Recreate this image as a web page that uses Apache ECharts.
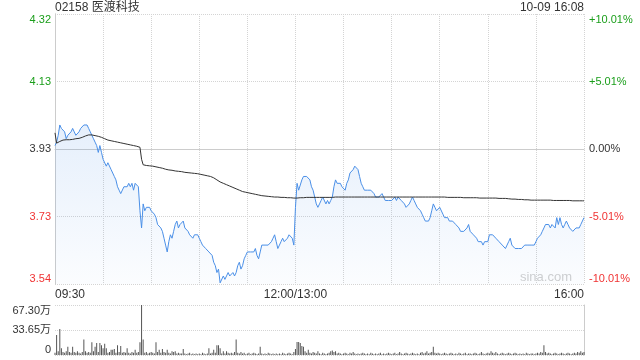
<!DOCTYPE html>
<html>
<head>
<meta charset="utf-8">
<script src="https://cdn.jsdelivr.net/npm/echarts@6/dist/echarts.min.js"></script>
<style>
html,body{margin:0;padding:0;background:#fff;}
#chart{width:640px;height:360px;}
</style>
</head>
<body>
<div id="chart"></div>
<script>
const stockTitle = '02158 医渡科技';
const stampText = '10-09 16:08';
const prevClose = 3.93;
const timeTickMinutes = [0, 150, 330];
const timeTickLabels = ['09:30', '12:00/13:00', '16:00'];
const priceTickLabels = ['3.54', '3.73', '3.93', '4.13', '4.32'];
const pctTickLabels = ['-10.01%', '-5.01%', '0.00%', '+5.01%', '+10.01%'];
const volTickLabels = ['0', '33.65万', '67.30万'];

const prices = [
3.94,3.95,3.97,4.00,3.99,3.99,3.98,3.96,3.97,3.97,
3.98,3.99,3.98,3.97,3.97,3.98,3.99,3.99,4.00,4.00,
4.00,3.99,3.98,3.97,3.96,3.95,3.94,3.92,3.94,3.92,
3.90,3.90,3.88,3.89,3.89,3.87,3.86,3.85,3.84,3.82,
3.81,3.80,3.80,3.82,3.82,3.82,3.83,3.82,3.83,3.81,
3.83,3.83,3.82,3.75,3.70,3.77,3.75,3.76,3.76,3.76,
3.75,3.75,3.74,3.73,3.71,3.71,3.70,3.69,3.67,3.65,
3.63,3.66,3.68,3.67,3.69,3.71,3.72,3.70,3.71,3.71,
3.72,3.70,3.70,3.69,3.68,3.68,3.67,3.68,3.68,3.68,
3.67,3.66,3.65,3.65,3.64,3.64,3.63,3.63,3.62,3.60,
3.59,3.57,3.58,3.54,3.54,3.56,3.55,3.56,3.57,3.56,
3.56,3.57,3.56,3.57,3.59,3.60,3.58,3.59,3.61,3.62,
3.63,3.63,3.63,3.63,3.63,3.64,3.62,3.61,3.63,3.65,
3.65,3.65,3.65,3.65,3.65,3.66,3.67,3.68,3.66,3.64,
3.65,3.66,3.67,3.66,3.66,3.67,3.68,3.68,3.67,3.65,
3.76,3.83,3.81,3.81,3.84,3.85,3.85,3.85,3.85,3.84,
3.82,3.81,3.79,3.77,3.76,3.77,3.78,3.79,3.79,3.77,
3.78,3.77,3.78,3.79,3.82,3.84,3.83,3.83,3.83,3.82,
3.82,3.81,3.83,3.84,3.86,3.86,3.87,3.88,3.88,3.87,
3.85,3.83,3.82,3.81,3.81,3.81,3.81,3.81,3.81,3.80,
3.79,3.79,3.79,3.79,3.80,3.80,3.78,3.78,3.78,3.78,
3.78,3.78,3.79,3.78,3.79,3.79,3.78,3.78,3.77,3.76,
3.76,3.77,3.78,3.79,3.78,3.77,3.76,3.76,3.75,3.74,
3.73,3.72,3.72,3.72,3.73,3.75,3.77,3.76,3.75,3.75,
3.76,3.76,3.74,3.73,3.73,3.73,3.72,3.72,3.72,3.72,
3.71,3.71,3.70,3.69,3.69,3.69,3.69,3.70,3.71,3.69,
3.69,3.68,3.68,3.67,3.66,3.66,3.66,3.65,3.66,3.66,
3.66,3.68,3.68,3.68,3.68,3.67,3.67,3.66,3.66,3.65,
3.65,3.64,3.65,3.66,3.67,3.65,3.65,3.64,3.64,3.64,
3.64,3.64,3.64,3.65,3.65,3.65,3.65,3.65,3.65,3.65,
3.66,3.67,3.67,3.68,3.69,3.70,3.71,3.71,3.71,3.70,
3.71,3.71,3.70,3.73,3.71,3.73,3.71,3.70,3.71,3.72,
3.71,3.70,3.70,3.69,3.69,3.70,3.70,3.70,3.71,3.71,3.73
];

const avgPrices = [
3.977,3.947,3.950,3.952,3.954,3.956,3.956,3.957,3.957,3.957,
3.958,3.958,3.959,3.960,3.961,3.961,3.962,3.964,3.966,3.968,
3.970,3.971,3.971,3.971,3.970,3.969,3.968,3.967,3.966,3.964,
3.962,3.960,3.958,3.956,3.955,3.954,3.953,3.952,3.951,3.950,
3.949,3.948,3.947,3.946,3.945,3.944,3.943,3.942,3.941,3.940,
3.939,3.938,3.937,3.935,3.900,3.884,3.883,3.882,3.882,3.881,
3.880,3.880,3.879,3.878,3.877,3.876,3.875,3.874,3.873,3.871,
3.870,3.869,3.868,3.868,3.867,3.866,3.866,3.865,3.864,3.864,
3.863,3.862,3.862,3.861,3.861,3.860,3.860,3.859,3.858,3.858,
3.857,3.856,3.855,3.854,3.853,3.852,3.851,3.850,3.848,3.846,
3.843,3.840,3.837,3.834,3.832,3.830,3.828,3.826,3.824,3.822,
3.820,3.818,3.816,3.814,3.812,3.810,3.808,3.806,3.805,3.804,
3.803,3.802,3.801,3.800,3.799,3.798,3.797,3.796,3.795,3.794,
3.793,3.793,3.792,3.792,3.791,3.791,3.791,3.790,3.790,3.790,
3.789,3.789,3.789,3.789,3.788,3.788,3.788,3.788,3.787,3.787,
3.787,3.787,3.788,3.788,3.788,3.788,3.789,3.789,3.789,3.789,
3.789,3.789,3.789,3.789,3.789,3.789,3.789,3.789,3.789,3.789,
3.789,3.789,3.789,3.789,3.789,3.790,3.790,3.790,3.790,3.790,
3.790,3.790,3.790,3.790,3.790,3.790,3.790,3.790,3.790,3.790,
3.790,3.790,3.790,3.790,3.790,3.790,3.790,3.790,3.790,3.790,
3.790,3.790,3.790,3.790,3.790,3.790,3.790,3.790,3.790,3.790,
3.790,3.790,3.790,3.790,3.790,3.790,3.790,3.790,3.790,3.790,
3.790,3.790,3.790,3.790,3.790,3.790,3.790,3.790,3.790,3.790,
3.790,3.790,3.790,3.790,3.790,3.790,3.790,3.790,3.790,3.790,
3.790,3.790,3.790,3.790,3.790,3.789,3.789,3.789,3.789,3.789,
3.789,3.789,3.789,3.789,3.788,3.788,3.788,3.788,3.788,3.788,
3.788,3.788,3.788,3.788,3.788,3.787,3.787,3.787,3.787,3.787,
3.787,3.787,3.787,3.787,3.787,3.787,3.787,3.786,3.786,3.786,
3.786,3.786,3.785,3.785,3.785,3.784,3.784,3.784,3.783,3.783,
3.783,3.783,3.782,3.782,3.782,3.782,3.781,3.781,3.781,3.781,
3.781,3.781,3.781,3.781,3.781,3.781,3.781,3.781,3.781,3.781,
3.780,3.780,3.780,3.780,3.780,3.780,3.780,3.780,3.780,3.780,
3.780,3.780,3.779,3.779,3.779,3.779,3.779,3.779,3.779,3.779,3.779
];

// volume in 万 shares per minute
const volumes = [
3,27,5,35,9,4,3,5,11,4,
3,11,4,3,5,3,2,4,21,5,
3,4,3,17,5,11,16,4,16,13,
9,15,9,3,4,7,7,8,3,13,
4,12,3,4,3,9,3,2,4,3,
7,3,4,17,67.3,21,3,4,2,3,
4,3,2,17,4,7,3,8,4,3,
7,3,2,5,4,5,2,3,2,2,
8,2,1,2,3,1,2,1,2,1,
2,1,3,2,1,2,9,2,3,7,
3,13,13,9,2,5,2,5,3,2,
3,2,4,21,3,2,4,2,3,1,
2,3,1,2,3,2,1,2,11,2,
1,2,1,3,2,1,2,1,2,1,
2,1,3,2,1,2,3,2,1,4,
8,17.5,17.5,16,12,11,5,3,7,3,
2,4,3,2,5,2,1,3,2,1,
2,3,5,6,4,5,2,3,2,1,
2,3,2,1,3,2,4,2,1,2,
1,2,3,2,1,2,1,3,2,1,
2,1,2,3,1,2,1,2,3,2,
1,2,3,1,2,4,2,1,2,3,
2,1,2,3,2,1,2,1,3,4,
2,3,5,2,3,4,11,3,2,3,
2,1,2,3,2,1,2,3,2,1,
2,1,3,2,1,2,3,1,2,2,
1,2,3,2,1,2,4,2,1,2,
3,2,5,3,2,4,2,1,2,3,
2,1,2,3,2,1,2,3,2,1,
2,1,2,1,3,2,1,2,2,1,
2,3,2,4,3,13,4,2,3,2,
1,2,3,2,1,2,3,2,1,2,
3,2,1,2,3,2,4,3,5,3,4
];

const FONT = 'Arial, "Liberation Sans", "Noto Sans CJK SC", sans-serif';
const GREEN = '#1a9e1a', RED = '#f03333', DARK = '#333';
const toPct = p => (p / prevClose - 1) * 100;
const PCT_MAX = 10.01, PCT_INT = 5.005;
const VOL_MAX = 67.30, VOL_INT = 33.65;

const priceData = prices.map((p, i) => [i, toPct(p)]);
const avgData = avgPrices.map((p, i) => [i, toPct(p)]);
const volData = volumes.map((v, i) => [i, v]);
const tickColor = idx => idx < 2 ? RED : (idx === 2 ? DARK : GREEN);

const chart = echarts.init(document.getElementById('chart'), null, {renderer: 'canvas'});
chart.setOption({
  animation: false,
  backgroundColor: '#fff',
  textStyle: {fontFamily: FONT},
  title: [
    {text: stockTitle, left: 55, top: 2, padding: 0, textStyle: {fontSize: 12, fontWeight: 'normal', color: DARK, fontFamily: FONT}},
    {text: stampText, right: 56, top: 2, padding: 0, textStyle: {fontSize: 12, fontWeight: 'normal', color: DARK, fontFamily: FONT}}
  ],
  grid: [
    {left: 55, top: 14, width: 529, height: 270},
    {left: 55, top: 305, width: 529, height: 50}
  ],
  xAxis: [
    {
      type: 'value', gridIndex: 0, min: 0, max: 330, interval: 30,
      axisLine: {show: false}, axisTick: {show: false},
      splitLine: {show: true, lineStyle: {color: '#d4d4d4', type: 'dotted', width: 1}},
      axisLabel: {
        show: true, margin: 5, fontSize: 12, color: DARK, fontFamily: FONT,
        showMinLabel: true, showMaxLabel: true,
        alignMinLabel: 'left', alignMaxLabel: 'right',
        formatter: v => { const k = timeTickMinutes.indexOf(Math.round(v)); return k >= 0 ? timeTickLabels[k] : ''; }
      }
    },
    {
      type: 'value', gridIndex: 0, min: 0, max: 330, position: 'top',
      axisLine: {show: true, lineStyle: {color: '#ccc'}}, axisTick: {show: false},
      axisLabel: {show: false}, splitLine: {show: false}
    },
    {
      type: 'value', gridIndex: 1, min: 0, max: 330, interval: 30,
      axisLine: {show: false}, axisTick: {show: false},
      axisLabel: {show: false}, splitLine: {show: false}
    }
  ],
  yAxis: [
    {
      type: 'value', gridIndex: 0, min: -PCT_MAX, max: PCT_MAX, interval: PCT_INT, position: 'left',
      axisLine: {show: true, lineStyle: {color: '#ccc'}}, axisTick: {show: false},
      splitLine: {show: true, lineStyle: {color: '#d4d4d4', type: 'dotted', width: 1}},
      axisLabel: {
        margin: 4, fontSize: 11, fontFamily: FONT,
        verticalAlignMinLabel: 'bottom', verticalAlignMaxLabel: 'top',
        formatter: (v, i) => priceTickLabels[i],
        color: (v, i) => tickColor(i)
      }
    },
    {
      type: 'value', gridIndex: 0, min: -PCT_MAX, max: PCT_MAX, interval: PCT_INT, position: 'right',
      axisLine: {show: true, lineStyle: {color: '#ccc'}}, axisTick: {show: false},
      splitLine: {show: false},
      axisLabel: {
        margin: 5, fontSize: 11, fontFamily: FONT,
        verticalAlignMinLabel: 'bottom', verticalAlignMaxLabel: 'top',
        formatter: (v, i) => pctTickLabels[i],
        color: (v, i) => tickColor(i)
      }
    },
    {
      type: 'value', gridIndex: 1, min: 0, max: VOL_MAX, interval: VOL_INT, position: 'left',
      axisLine: {show: false}, axisTick: {show: false},
      splitLine: {show: true, lineStyle: {color: '#d4d4d4', type: 'dotted', width: 1}},
      axisLabel: {
        margin: 4, fontSize: 11, color: DARK, fontFamily: FONT,
        verticalAlignMinLabel: 'bottom', verticalAlignMaxLabel: 'top',
        formatter: (v, i) => volTickLabels[i]
      }
    },
    {
      type: 'value', gridIndex: 1, min: 0, max: VOL_MAX, position: 'right',
      axisLine: {show: true, lineStyle: {color: '#ccc'}}, axisTick: {show: false},
      axisLabel: {show: false}, splitLine: {show: false}
    }
  ],
  graphic: [
    {type: 'text', right: 68, top: 271, style: {text: 'sina.com', fill: '#d0d0d0', font: '13px ' + FONT}}
  ],
  series: [
    {
      type: 'line', xAxisIndex: 0, yAxisIndex: 0, data: priceData,
      showSymbol: false, symbol: 'none',
      lineStyle: {color: '#4a8fe7', width: 1},
      areaStyle: {
        origin: 'start',
        color: new echarts.graphic.LinearGradient(0, 0, 0, 1, [
          {offset: 0, color: 'rgba(74,143,231,0.2)'},
          {offset: 1, color: 'rgba(74,143,231,0.03)'}
        ])
      },
      z: 3
    },
    {
      type: 'line', xAxisIndex: 0, yAxisIndex: 0, data: avgData,
      showSymbol: false, symbol: 'none',
      lineStyle: {color: '#333', width: 1},
      z: 4
    },
    {
      type: 'bar', xAxisIndex: 2, yAxisIndex: 2, data: volData,
      barWidth: 1, itemStyle: {color: '#555'}
    }
  ]
});
</script>
</body>
</html>
